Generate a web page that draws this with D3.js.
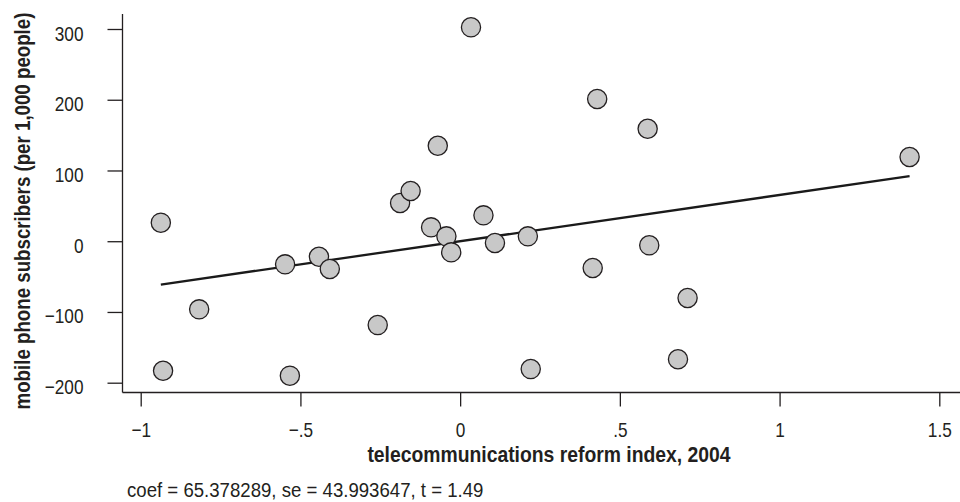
<!DOCTYPE html>
<html>
<head>
<meta charset="utf-8">
<script src="https://cdn.jsdelivr.net/npm/d3@7"></script>
<style>
  html, body { margin: 0; padding: 0; background: #fff; }
  svg { display: block; }
  text { font-family: "Liberation Sans", Arial, Helvetica, sans-serif; fill: #231f20; }
</style>
</head>
<body>
<svg id="chart" width="960" height="502"></svg>
<script>
// Added-variable plot: residualised reform index vs. residualised mobile subscribers
const reformIndex = [
  -0.937, -0.817, -0.930, -0.548, -0.442, -0.408, -0.258, -0.533, -0.188,
  -0.155, -0.070, -0.091, -0.043, -0.028, 0.034, 0.073, 0.109, 0.212,
  0.221, 0.415, 0.429, 0.587, 0.592, 0.712, 0.682, 1.407
];
const mobileSubs = [
  26.2, -96.3, -183.1, -32.7, -21.9, -39.3, -118.5, -190.1, 54.0,
  71.0, 135.0, 19.6, 6.9, -15.7, 302.4, 36.6, -2.5, 6.9,
  -180.7, -37.9, 201.0, 159.0, -5.8, -80.3, -166.9, 119.0
];
const coef = 65.378289;
const se = 43.993647;
const tStat = 1.49;

const xTickValues = [-1, -0.5, 0, 0.5, 1, 1.5];
const xTickLabels = ["\u22121", "\u2212.5", "0", ".5", "1", "1.5"];
const yTickValues = [-200, -100, 0, 100, 200, 300];
const yTickLabels = ["\u2212200", "\u2212100", "0", "100", "200", "300"];

const xTitle = "telecommunications reform index, 2004";
const yTitle = "mobile phone subscribers (per 1,000 people)";
const note = `coef = ${coef.toFixed(6)}, se = ${se.toFixed(6)}, t = ${tStat.toFixed(2)}`;

const points = reformIndex.map((v, i) => ({ x: v, y: mobileSubs[i] }));

const svg = d3.select("#chart");
const ink = "#231f20";
const narrow = 0.82; // horizontal squeeze giving a condensed face

const x = d3.scaleLinear().domain([-1, 1.5]).range([140.7, 939.3]);
const y = d3.scaleLinear().domain([-200, 300]).range([382.7, 29]);

const frameLeft = 122.5, frameBottom = 392.5, frameTop = 14, frameRight = 960;

// move a text's x/y into a transform so it can be squeezed horizontally
function condense(sel, k) {
  sel.each(function () {
    const t = d3.select(this);
    const tx = +t.attr("x") || 0, ty = +t.attr("y") || 0;
    t.attr("x", 0).attr("y", 0)
      .attr("transform", `translate(${tx},${ty}) scale(${k},1)`);
  });
}

// axis lines
svg.append("line")
  .attr("x1", frameLeft).attr("x2", frameLeft)
  .attr("y1", frameTop).attr("y2", frameBottom)
  .attr("stroke", ink).attr("stroke-width", 1.3);
svg.append("line")
  .attr("x1", frameLeft).attr("x2", frameRight)
  .attr("y1", frameBottom).attr("y2", frameBottom)
  .attr("stroke", ink).attr("stroke-width", 1.3);

// y axis
const yAxis = svg.append("g")
  .attr("transform", `translate(${frameLeft},0)`)
  .call(d3.axisLeft(y)
    .tickValues(yTickValues)
    .tickFormat((d, i) => yTickLabels[i])
    .tickSize(15)
    .tickPadding(24));
yAxis.select(".domain").remove();
yAxis.selectAll(".tick line").attr("stroke", ink).attr("stroke-width", 1.3);
yAxis.selectAll(".tick text")
  .attr("dy", null)
  .attr("y", 11)
  .style("font-size", "21px")
  .attr("fill", ink)
  .call(condense, narrow);

// x axis
const xAxis = svg.append("g")
  .attr("transform", `translate(0,${frameBottom})`)
  .call(d3.axisBottom(x)
    .tickValues(xTickValues)
    .tickFormat((d, i) => xTickLabels[i])
    .tickSize(14));
xAxis.select(".domain").remove();
xAxis.selectAll(".tick line").attr("stroke", ink).attr("stroke-width", 1.3);
xAxis.selectAll(".tick text")
  .attr("y", 44.5)
  .attr("dy", null)
  .style("font-size", "21px")
  .attr("fill", ink)
  .call(condense, narrow);

// fitted line through the origin with the reported slope
const [xMin, xMax] = d3.extent(points, d => d.x);
svg.append("line")
  .attr("x1", x(xMin)).attr("y1", y(coef * xMin))
  .attr("x2", x(xMax)).attr("y2", y(coef * xMax))
  .attr("stroke", "#1a1a1a").attr("stroke-width", 2.3);

// observations
svg.append("g")
  .selectAll("circle")
  .data(points)
  .join("circle")
  .attr("cx", d => x(d.x))
  .attr("cy", d => y(d.y))
  .attr("r", 9.6)
  .attr("fill", "#c8c8c8")
  .attr("stroke", "#231f20")
  .attr("stroke-width", 1.3);

// titles
svg.append("text")
  .attr("transform", "translate(549,462) scale(0.9,1)")
  .attr("text-anchor", "middle")
  .style("font-size", "21.5px")
  .style("font-weight", "bold")
  .text(xTitle);

svg.append("text")
  .attr("transform", "translate(30,211) rotate(-90) scale(0.87,1)")
  .attr("text-anchor", "middle")
  .style("font-size", "21.5px")
  .style("font-weight", "bold")
  .text(yTitle);

svg.append("text")
  .attr("transform", "translate(127,496.5) scale(0.887,1)")
  .style("font-size", "21px")
  .text(note);
</script>
</body>
</html>
